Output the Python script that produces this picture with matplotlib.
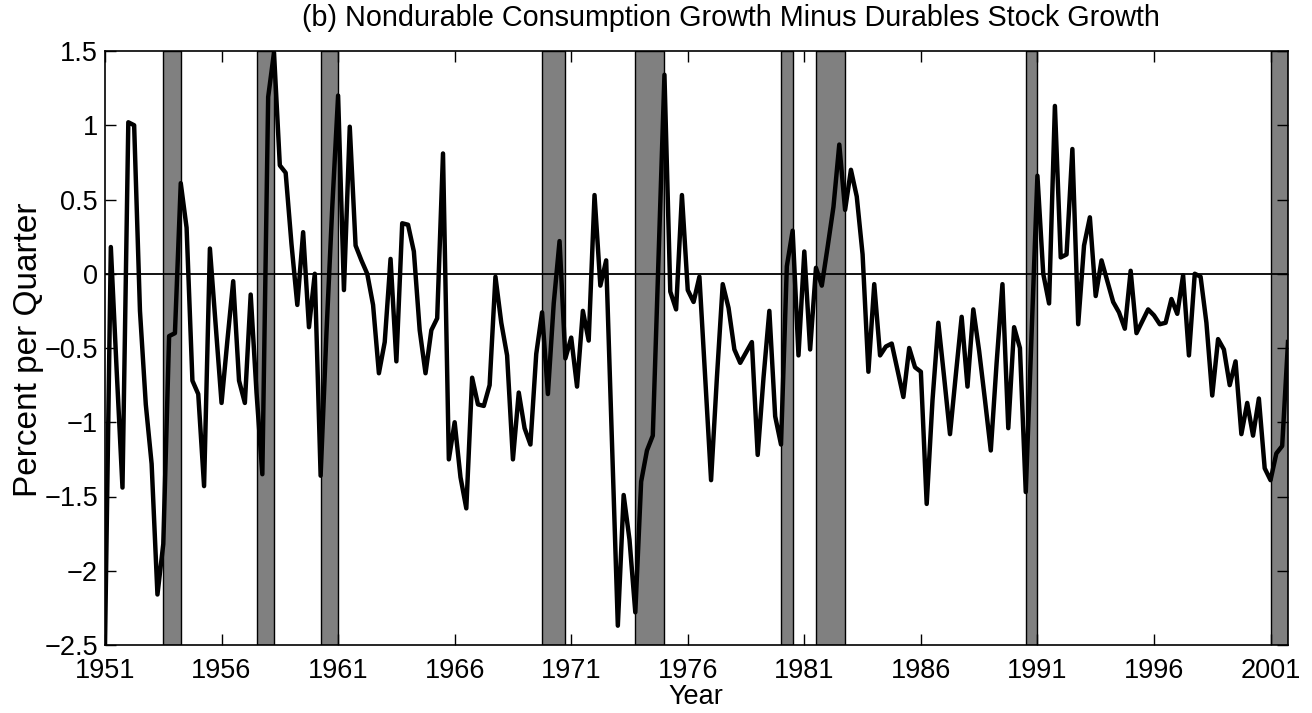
import matplotlib.pyplot as plt
import numpy as np

# quarterly series, 1951Q1 .. 2001Q4 (percent per quarter)
values = [
    -2.50, 0.18, -0.65, -1.44, 1.02, 1.00, -0.25, -0.88, -1.28, -2.16,
    -1.82, -0.42, -0.40, 0.61, 0.31, -0.72, -0.81, -1.43, 0.17, -0.35,
    -0.87, -0.45, -0.05, -0.72, -0.87, -0.14, -0.80, -1.35, 1.19, 1.49,
    0.73, 0.68, 0.20, -0.21, 0.28, -0.36, 0.00, -1.36, -0.40, 0.45,
    1.20, -0.11, 0.99, 0.19, 0.09, 0.00, -0.21, -0.67, -0.46, 0.10,
    -0.59, 0.34, 0.33, 0.15, -0.38, -0.67, -0.38, -0.30, 0.81, -1.25,
    -1.00, -1.37, -1.58, -0.70, -0.88, -0.89, -0.75, -0.02, -0.33, -0.55,
    -1.25, -0.80, -1.04, -1.15, -0.54, -0.26, -0.81, -0.20, 0.22, -0.57,
    -0.43, -0.76, -0.25, -0.45, 0.53, -0.08, 0.09, -1.15, -2.37, -1.49,
    -1.79, -2.28, -1.40, -1.19, -1.09, 0.12, 1.34, -0.12, -0.24, 0.53,
    -0.11, -0.19, -0.02, -0.70, -1.39, -0.70, -0.07, -0.23, -0.51, -0.60,
    -0.53, -0.46, -1.22, -0.70, -0.25, -0.96, -1.15, 0.05, 0.29, -0.55,
    0.15, -0.51, 0.04, -0.08, 0.18, 0.45, 0.87, 0.43, 0.70, 0.52,
    0.13, -0.66, -0.07, -0.55, -0.49, -0.47, -0.65, -0.83, -0.50, -0.63,
    -0.66, -1.55, -0.85, -0.33, -0.70, -1.08, -0.68, -0.29, -0.76, -0.24,
    -0.52, -0.85, -1.19, -0.60, -0.07, -1.04, -0.36, -0.50, -1.47, -0.40,
    0.66, 0.00, -0.20, 1.13, 0.11, 0.13, 0.84, -0.34, 0.19, 0.38,
    -0.15, 0.09, -0.05, -0.19, -0.26, -0.37, 0.02, -0.40, -0.32, -0.24,
    -0.28, -0.34, -0.33, -0.17, -0.27, -0.01, -0.55, 0.00, -0.02, -0.33,
    -0.82, -0.44, -0.51, -0.75, -0.59, -1.08, -0.87, -1.09, -0.84, -1.31,
    -1.39, -1.21, -1.16, -0.46,
]
start_year = 1951

# NBER recessions (quarter dates)
rec_start = [1953.5, 1957.5, 1960.25, 1969.75, 1973.75, 1980.0, 1981.5, 1990.5, 2001.0]
rec_end = [1954.25, 1958.25, 1961.0, 1970.75, 1975.0, 1980.5, 1982.75, 1991.0, 2001.75]

xtick_years = [1951, 1956, 1961, 1966, 1971, 1976, 1981, 1986, 1991, 1996, 2001]
ytick_vals = [-2.5, -2, -1.5, -1, -0.5, 0, 0.5, 1, 1.5]
ytick_labels = ['\u22122.5', '\u22122', '\u22121.5', '\u22121', '\u22120.5', '0', '0.5', '1', '1.5']

plt.rcParams['font.family'] = ['Liberation Sans', 'DejaVu Sans']

t = start_year + np.arange(len(values)) / 4.0

fig = plt.figure(figsize=(13.12, 7.13), dpi=100)
ax = fig.add_axes([105 / 1312, 68 / 713, 1183 / 1312, 594 / 713])

for s, e in zip(rec_start, rec_end):
    ax.axvspan(s, e, facecolor='#808080', edgecolor='black', linewidth=1.0, zorder=1)

ax.axhline(0, color='black', linewidth=1.3, zorder=2)
ax.plot(t, values, color='black', linewidth=3.2, solid_joinstyle='round', zorder=3)

ax.set_xlim(start_year, 2001.75)
ax.set_ylim(-2.5, 1.5)
ax.set_xticks(xtick_years)
ax.set_xticklabels([str(y) for y in xtick_years])
ax.set_yticks(ytick_vals)
ax.set_yticklabels(ytick_labels)
ax.tick_params(direction='in', length=8, width=1, top=True, right=True,
               labelsize=19.5)
ax.tick_params(axis='x', pad=9)
ax.tick_params(axis='y', pad=5)
for sp in ax.spines.values():
    sp.set_linewidth(1.2)
    sp.set_zorder(4)

fig.text(696 / 1312, 1 - 697 / 713, 'Year', ha='center', va='center', fontsize=19.5)
fig.text(29 / 1312, 1 - 350 / 713, 'Percent per Quarter', rotation=90,
         ha='center', va='center', fontsize=24)
fig.text(731 / 1312, 1 - 18 / 713, '(b) Nondurable Consumption Growth Minus Durables Stock Growth',
         ha='center', va='center', fontsize=20.7)

fig.savefig('out.png', dpi=100)
